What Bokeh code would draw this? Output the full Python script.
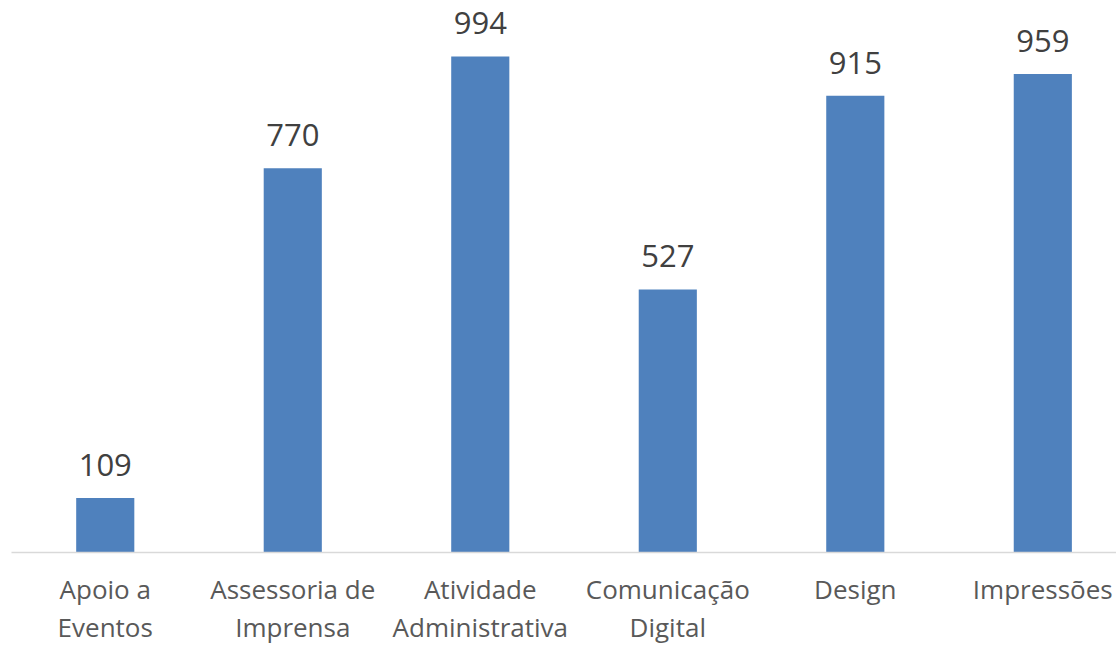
from bokeh.plotting import figure
from bokeh.models import ColumnDataSource, Range1d, FixedTicker
from bokeh.core.properties import value
from bokeh.embed import file_html
from bokeh.resources import INLINE

categories = ["Apoio a\nEventos", "Assessoria de\nImprensa", "Atividade\nAdministrativa",
              "Comunicação\nDigital", "Design", "Impressões"]
values = [109, 770, 994, 527, 915, 959]

xs = list(range(len(categories)))
src = ColumnDataSource(dict(x=xs, top=values, label=[str(v) for v in values]))

p = figure(width=1116, height=647, output_backend="svg", toolbar_location=None,
           x_range=Range1d(-0.5, 5.393), y_range=Range1d(0, 1090),
           y_axis_location=None, min_border_left=11, min_border_right=0,
           min_border_top=8, min_border_bottom=94)
p.outline_line_color = None
p.xgrid.visible = False
p.ygrid.visible = False
p.background_fill_color = "white"
p.border_fill_color = "white"

p.vbar(x="x", top="top", bottom=0, width=0.31, source=src,
       fill_color="#4F81BD", line_color=None)

p.text(x="x", y="top", text="label", source=src, text_align="center",
       text_baseline="alphabetic", y_offset=-33, text_font=value("Open Sans"),
       text_font_size="31px", text_color="#404040")

ax = p.xaxis[0]
ax.ticker = FixedTicker(ticks=xs)
ax.major_label_overrides = {i: c for i, c in zip(xs, categories)}
ax.axis_line_color = "#D9D9D9"
ax.axis_line_width = 1.5
ax.major_tick_line_color = None
ax.minor_tick_line_color = None
ax.major_label_text_font = "Open Sans"
ax.major_label_text_font_size = "26px"
ax.major_label_text_color = "#595959"
ax.major_label_text_line_height = 1.06
ax.major_label_standoff = 12

open("out.html", "w").write(file_html(p, INLINE))
